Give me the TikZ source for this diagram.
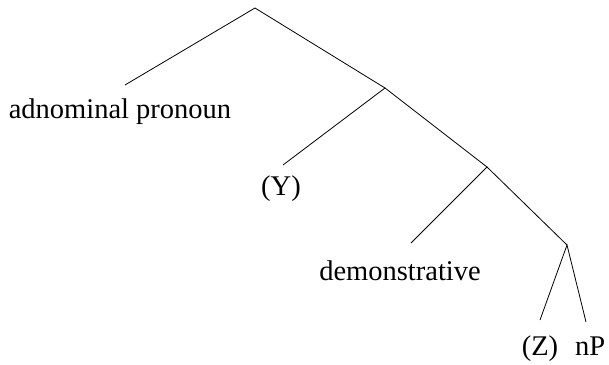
\documentclass[tikz,border=0pt]{standalone}
\usepackage{fontspec}
\setmainfont{Liberation Serif}
\begin{document}
\begin{tikzpicture}[x=1pt,y=1pt,
  leaf/.style={anchor=base,inner sep=0pt,font=\fontsize{28.5}{32}\selectfont},
  edge/.style={line width=0.8pt}]
\useasboundingbox (0,0) rectangle (609,364);
\coordinate (root) at (255,356);
\coordinate (a) at (125,279);
\coordinate (b) at (385,276);
\coordinate (y) at (283,199);
\coordinate (c) at (487,197);
\coordinate (d) at (411,121);
\coordinate (e) at (567,119);
\coordinate (z) at (540,44);
\coordinate (n) at (586,42);
\node[leaf] (ta) at (120,245) {adnominal pronoun};
\node[leaf] (ty) at (281,168) {(Y)};
\node[leaf] (td) at (400,84) {demonstrative};
\node[leaf] (tz) at (540,9) {(Z)};
\node[leaf,anchor=base west] (tn) at (575,9) {nP};
\draw[edge] (a) -- (root) -- (b);
\draw[edge] (y) -- (b) -- (c);
\draw[edge] (d) -- (c) -- (e);
\draw[edge] (z) -- (e) -- (n);
\end{tikzpicture}
\end{document}
